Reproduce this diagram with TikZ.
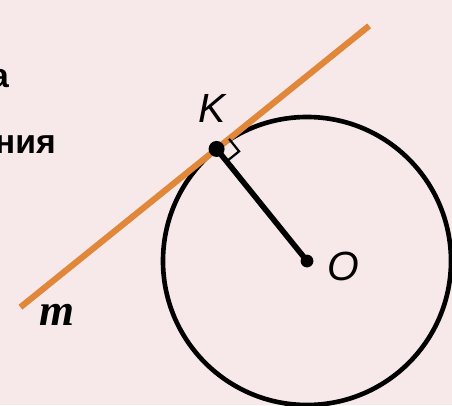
\documentclass[tikz,border=0pt]{standalone}
\usepackage{fontspec}
\setmainfont{Liberation Sans}
\newfontfamily\serifm{Liberation Serif}
\usetikzlibrary{calc}
\definecolor{bgpink}{HTML}{F7E9EA}
\definecolor{tangorange}{HTML}{E0873A}
\begin{document}
\begin{tikzpicture}[lbl/.style={font=\fontsize{29}{32}\selectfont\itshape, inner sep=0pt}]
	\fill[bgpink] (0,0) rectangle (11.3,10.125);
	\useasboundingbox (0,0) rectangle (11.3,10.125);
	\coordinate (O) at (7.675,3.6);
	\coordinate (K) at ($(O)+(128.9:3.6)$);
	\coordinate (T1) at ($(K)+(218.9:6.3)$);
	\coordinate (T2) at ($(K)+(38.9:4.9)$);
	% okruzhnost i kasatelnaya
	\draw[line width=3.3pt] (O) circle (3.6);
	\draw[tangorange, line width=4.4pt] (T1) -- (T2);
	\draw[line width=4pt] (K) -- (O);
	% pryamoy ugol
	\draw[line width=1.6pt] ($(K)+(38.9:0.4)$) -- ++(-51.1:0.4) -- ($(K)+(-51.1:0.4)$);
	\foreach \p/\r in {K/0.2,O/0.16} \fill (\p) circle (\r);
	\node[lbl] (lK) at (5.3,7.42) {K};
	\node[lbl] (lO) at (8.58,3.47) {O};
	\node[font=\fontsize{32}{34}\selectfont\serifm\bfseries\itshape, inner sep=0pt] (lm) at (1.42,2.25) {m};
	% obrezannyy tekst sleva
	\node[font=\fontsize{24}{26}\selectfont\bfseries, inner sep=0pt, anchor=base east] (tnia) at (1.4,6.3) {ния};
	\node[font=\fontsize{24}{26}\selectfont\bfseries, inner sep=0pt, anchor=base east] (ta) at (0.23,7.95) {а};
\end{tikzpicture}
\end{document}
